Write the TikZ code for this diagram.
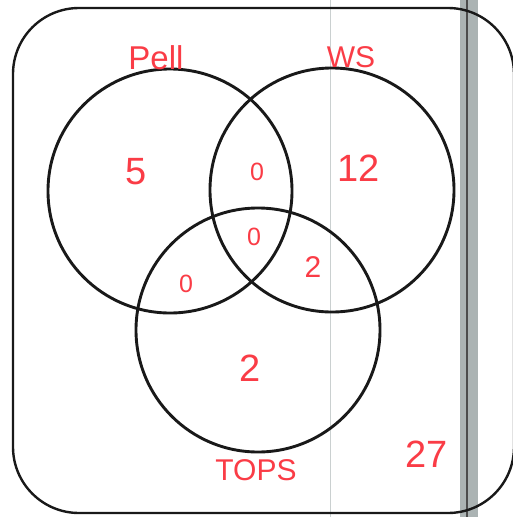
\documentclass[tikz,border=0pt]{standalone}
\usepackage{fontspec}
\setmainfont{Liberation Sans}
\definecolor{pen}{RGB}{250,60,70}
\definecolor{scan}{RGB}{150,160,160}
\tikzset{
  ring/.style={draw=black!90, line width=2.9pt},
  frame/.style={draw=black!90, line width=2.4pt, rounded corners=66pt},
  lab/.style={text=pen, inner sep=0pt, font=\fontsize{33}{33}\selectfont},
  mid/.style={text=pen, inner sep=0pt, font=\fontsize{30}{30}\selectfont},
  small/.style={text=pen, inner sep=0pt, font=\fontsize{25}{25}\selectfont},
  big/.style={text=pen, inner sep=0pt, font=\fontsize{38}{38}\selectfont},
}
\begin{document}
\begin{tikzpicture}[x=1pt,y=-1pt]
\useasboundingbox (0,0) rectangle (513,517);
\fill[white] (0,0) rectangle (513,517);
% scan artifacts
\draw[scan!50, line width=0.8pt] (330,0) -- (330,517);
\fill[scan!80] (460,0) rectangle (478,517);
\draw[black!70, line width=1.5pt] (467,0) -- (467,517);
% frame
\draw[frame] (13,8) rectangle (514,513);
% circles
\draw[ring] (170,191) circle (122);
\draw[ring] (332,190) circle (122);
\draw[ring] (258,330) circle (122);
% labels
\node[lab] (pell) at (156,58) {Pell};
\node[mid] (ws) at (351,57) {WS};
\node[mid] (tops) at (256,470) {TOPS};
\node[big] (a) at (136,172) {5};
\node[small] (ab) at (257,172) {0};
\node[big] (b) at (359,168) {12};
\node[small] (abc) at (254,237) {0};
\node[small] (ac) at (186,284) {0};
\node[mid] (bc) at (313,267) {2};
\node[big] (c) at (250,368) {2};
\node[big] (out) at (427,454) {27};
\end{tikzpicture}
\end{document}
